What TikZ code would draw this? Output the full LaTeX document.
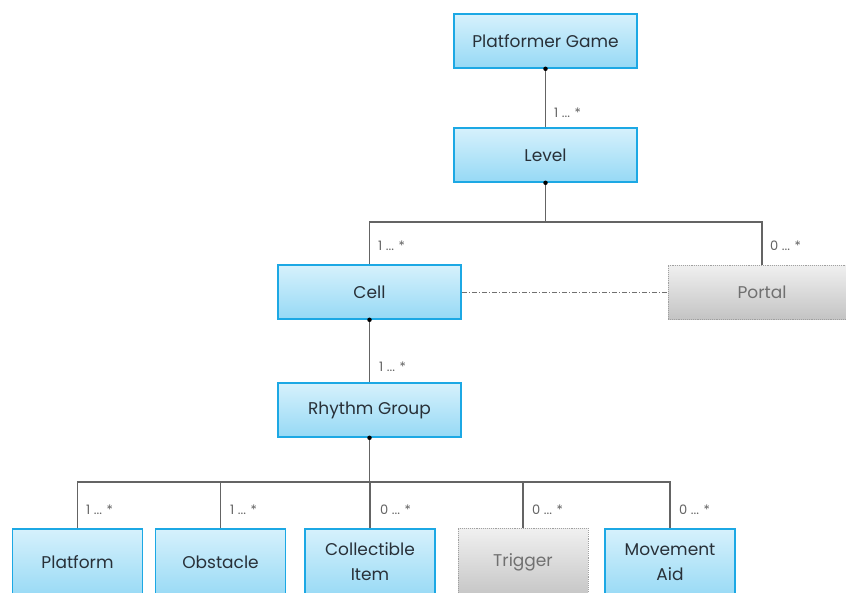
\documentclass[tikz,border=0pt]{standalone}
\usepackage{fontspec}
\setmainfont{Poppins}
\usetikzlibrary{shadings}
\definecolor{boxtop}{RGB}{214,241,252}
\definecolor{boxbot}{RGB}{150,217,245}
\definecolor{boxline}{RGB}{28,168,228}
\definecolor{greytop}{RGB}{240,240,240}
\definecolor{greybot}{RGB}{196,196,196}
\definecolor{greyline}{RGB}{160,160,160}
\definecolor{wire}{RGB}{100,100,100}
\definecolor{ink}{RGB}{40,48,56}
\definecolor{faint}{RGB}{112,112,112}
\newcommand{\boxfont}{\fontsize{17}{25}\selectfont}
\tikzset{
  cls/.style={draw=boxline, line width=1.6pt, top color=boxtop, bottom color=boxbot,
    text=ink, font=\boxfont, align=center, inner sep=0pt},
  ghost/.style={draw=greyline, densely dotted, line width=0.9pt, top color=greytop,
    bottom color=greybot, text=faint, font=\boxfont, align=center, inner sep=0pt},
  wide/.style={minimum width=183pt, minimum height=54pt},
  leaf/.style={minimum width=130pt, minimum height=70pt},
  link/.style={draw=wire, line width=1.2pt},
  mult/.style={text=wire, font=\fontsize{13}{15}\selectfont, inner sep=0pt, anchor=west},
  pin/.style={fill=black, circle, inner sep=0pt, minimum size=4.5pt},
  caption/.style={text=ink, font=\boxfont, align=center, inner sep=0pt}
}
\begin{document}
\begin{tikzpicture}[x=1pt, y=-1pt]
\useasboundingbox (0,0) rectangle (846,592);
\clip (0,0) rectangle (846,592);
\fill[white] (0,0) rectangle (846,592);

% class boxes
\node[cls, wide] (game) at (545.5,41) {Platformer Game};
\node[cls, wide] (level) at (545.5,155) {Level};
\node[cls, wide] (cell) at (369.5,292) {Cell};
\node[ghost, minimum width=188pt, minimum height=54pt] (portal) at (762,292) {Portal};
\node[cls, wide] (rhythm) at (369.5,410) {Rhythm Group};

% leaf boxes along the bottom row
\node[cls, leaf, anchor=north] (platform) at (77.5,528) {};
\node[cls, leaf, anchor=north] (obstacle) at (220.5,528) {};
\node[cls, leaf, anchor=north] (collect) at (370,528) {};
\node[ghost, leaf, anchor=north] (trigger) at (523,528) {};
\node[cls, leaf, anchor=north] (move) at (670,528) {};
\node[caption] (tplatform) at (77.5,562) {Platform};
\node[caption] (tobstacle) at (220.5,562) {Obstacle};
\node[caption] (tcollect) at (370,562) {Collectible\\Item};
\node[caption, text=faint] (ttrigger) at (523,562) {Trigger};
\node[caption] (tmove) at (670,562) {Movement\\Aid};

% junction points
\coordinate (j1) at (545.5,222);
\coordinate (j2) at (369.5,482);

% connectors
\draw[link] (game.south) -- (level.north);
\draw[link] (level.south) -- (j1);
\draw[link] (cell.north) |- (j1) -| (portal.north);
\draw[link] (cell.south) -- (rhythm.north);
\draw[link] (rhythm.south) -- (j2);
\draw[link] (platform.north) |- (j2) -| (move.north);
\draw[link] (obstacle.north) -- (obstacle.north |- j2);
\draw[link] (collect.north) -- (collect.north |- j2);
\draw[link] (trigger.north) -- (trigger.north |- j2);
\draw[draw=faint, line width=0.8pt, dash pattern=on 5pt off 2pt on 1pt off 2pt] (cell.east) -- (portal.west);

% aggregation dots
\node[pin] (p1) at (game.south) {};
\node[pin] (p2) at (level.south) {};
\node[pin] (p3) at (cell.south) {};
\node[pin] (p4) at (rhythm.south) {};

% multiplicities
\node[mult] (m1) at (554,113) {1 ... *};
\node[mult] (m2) at (378,246) {1 ... *};
\node[mult] (m3) at (770,246) {0 ... *};
\node[mult] (m4) at (379,367) {1 ... *};
\node[mult] (m5) at (86,510) {1 ... *};
\node[mult] (m6) at (230,510) {1 ... *};
\node[mult] (m7) at (380,510) {0 ... *};
\node[mult] (m8) at (532,510) {0 ... *};
\node[mult] (m9) at (679,510) {0 ... *};
\end{tikzpicture}
\end{document}
